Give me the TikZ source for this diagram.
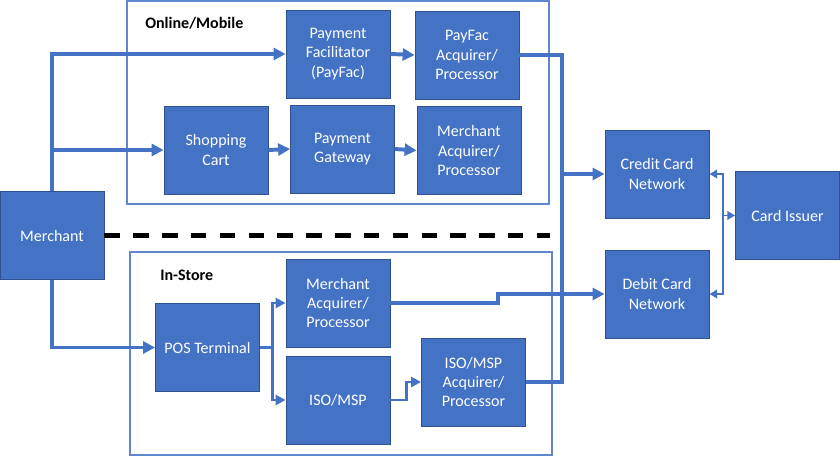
\documentclass[tikz,border=0pt]{standalone}
\usepackage{fontspec}
\setmainfont{Carlito}
\usepackage{tikz}
\usetikzlibrary{arrows.meta}
\definecolor{boxblue}{RGB}{68, 114, 196}
\definecolor{edgeblue}{RGB}{47, 82, 143}

\begin{document}
\begin{tikzpicture}[x=0.025cm, y=-0.025cm,
        box/.style={draw=edgeblue, line width=0.6pt, fill=boxblue, text=white, align=center,
            minimum width=2.6cm, minimum height=2.2cm, inner sep=1pt,
            font=\fontsize{11.4}{13.8}\selectfont},
        frame/.style={draw=boxblue!85, line width=0.8pt},
        tag/.style={anchor=west, inner sep=0pt, font=\fontsize{11.4}{13.8}\selectfont\bfseries},
        flow/.style={draw=boxblue, line width=2.8pt, -{Triangle[length=8.5pt,width=8.5pt]}},
        wire/.style={draw=boxblue, line width=2.8pt},
        branch/.style={draw=boxblue, line width=2.1pt, -{Triangle[length=7pt,width=7pt]}},
        link/.style={draw=boxblue, line width=1.4pt}]
    \useasboundingbox (0,0) rectangle (840,457);
    \draw[frame] (127,1) rectangle (549,204);
    \draw[frame] (130,252) rectangle (552,455);
    \node[tag] (online) at (145,23) {Online/Mobile};
    \node[tag] (store) at (160,275) {In-Store};

    \node[box] (merchant) at (52,235.5) {Merchant};
    \node[box] (payfac) at (338,54) {Payment\\Facilitator\\(PayFac)};
    \node[box] (payfacacq) at (467,55) {PayFac\\Acquirer/\\Processor};
    \node[box] (cart) at (216,150) {Shopping\\Cart};
    \node[box] (gateway) at (342.5,149) {Payment\\Gateway};
    \node[box] (onlineacq) at (469,150.5) {Merchant\\Acquirer/\\Processor};
    \node[box] (pos) at (207.5,347.5) {POS Terminal};
    \node[box] (storeacq) at (338,303) {Merchant\\Acquirer/\\Processor};
    \node[box] (iso) at (338,400) {ISO/MSP};
    \node[box] (isoacq) at (473.5,382) {ISO/MSP\\Acquirer/\\Processor};
    \node[box] (credit) at (657,174) {Credit Card\\Network};
    \node[box] (debit) at (657,294) {Debit Card\\Network};
    \node[box] (issuer) at (787.5,215.5) {Card Issuer};

    \coordinate (bus) at (562,0);
    \coordinate (jog) at (498,0);
    \coordinate (split) at (723,0);
    \coordinate (dashend) at (550,235.5);

    \draw[flow] (merchant.north) |- (payfac.west);
    \draw[flow] (merchant.north) |- (cart.west);
    \draw[flow] (merchant.south) |- (pos.west);
    \foreach \a/\b in {payfac/payfacacq, cart/gateway, gateway/onlineacq}
        \draw[flow] (\a.east) -- (\b.west);
    \draw[wire] (payfacacq.east) -| (bus |- isoacq.east) -- (isoacq.east);
    \draw[flow] (bus |- credit.west) -- (credit.west);
    \draw[flow] (storeacq.east) -| (jog |- debit.west) -- (debit.west);
    \draw[branch] (pos.east) -- ++(13,0) |- (storeacq.west);
    \draw[branch] (pos.east) -- ++(13,0) |- (iso.west);
    \draw[branch] (iso.east) -- ++(16,0) |- (isoacq.west);
    \draw[link, {Triangle[length=5.5pt,width=6pt]}-{Triangle[length=5.5pt,width=6pt]}]
        (credit.east) -| (split |- debit.east) -- (debit.east);
    \draw[link, -{Triangle[length=5.5pt,width=6pt]}] (split |- issuer.west) -- (issuer.west);
    \draw[line width=3pt, dash pattern=on 11pt off 9.5pt] (merchant.east) -- (dashend);
\end{tikzpicture}
\end{document}
